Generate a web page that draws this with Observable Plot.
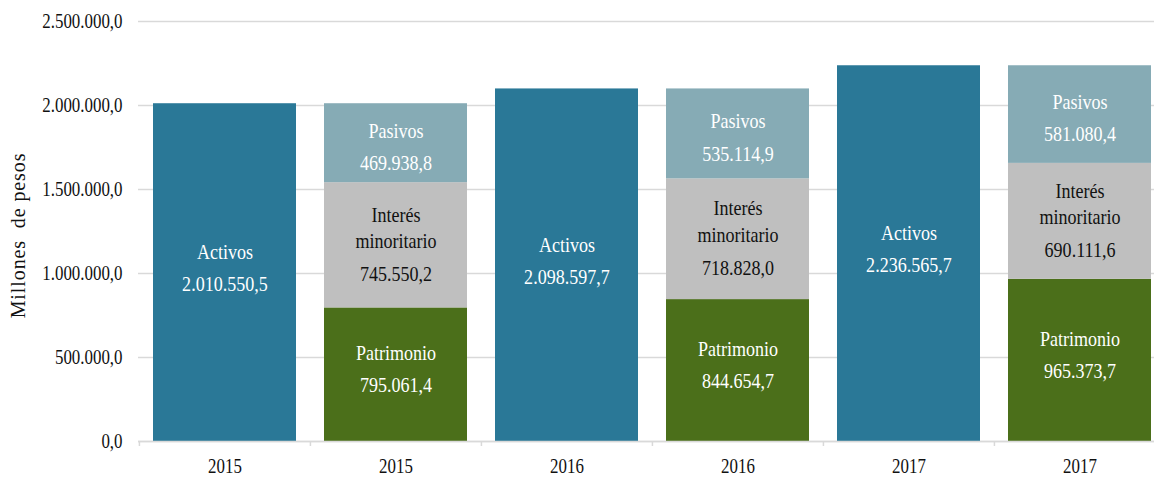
<!DOCTYPE html>
<html>
<head>
<meta charset="utf-8">
<script src="https://cdn.jsdelivr.net/npm/d3@7"></script>
<script src="https://cdn.jsdelivr.net/npm/@observablehq/plot@0.6"></script>
<style>
  html, body { margin: 0; padding: 0; background: #fff; }
  #chart svg { display: block; }
</style>
</head>
<body>
<div id="chart"></div>
<script>
// ---- Data ----
const years = ["2015", "2016", "2017"];
const activos = [2010550.5, 2098597.7, 2236565.7];
const patrimonio = [795061.4, 844654.7, 965373.7];
const interes = [745550.2, 718828.0, 690111.6];
const pasivos = [469938.8, 535114.9, 581080.4];
const seriesNames = ["Activos", "Patrimonio", "Interés minoritario", "Pasivos"];
const yTicks = [0, 500000, 1000000, 1500000, 2000000, 2500000];
const yLabel = "Millones\u00a0 de pesos";

// ---- Styles ----
const colors = {
  "Activos": "#2A7897",
  "Patrimonio": "#4B6F1A",
  "Interés minoritario": "#BFBFBF",
  "Pasivos": "#86ABB5"
};
const textColors = {
  "Activos": "#fff",
  "Patrimonio": "#fff",
  "Interés minoritario": "#111",
  "Pasivos": "#fff"
};
// label offsets (name dy, value dy) per series
const offsets = {
  "Activos": [-22, 12],
  "Patrimonio": [-23, 11],
  "Interés minoritario": [-19, 29],
  "Pasivos": [-14, 20]
};

const locale = d3.formatLocale({decimal: ",", thousands: ".", grouping: [3], currency: ["", ""]});
const fmt = locale.format(",.1f");

// ---- Build rows ----
const keys = [];
const keyYear = {};
const rows = [];
years.forEach((yr, i) => {
  const kA = yr + "-A", kB = yr + "-B";
  keys.push(kA, kB);
  keyYear[kA] = yr; keyYear[kB] = yr;
  rows.push({bar: kA, series: "Activos", value: activos[i], y1: 0, y2: activos[i]});
  let base = 0;
  [["Patrimonio", patrimonio[i]], ["Interés minoritario", interes[i]], ["Pasivos", pasivos[i]]].forEach(([s, v]) => {
    rows.push({bar: kB, series: s, value: v, y1: base, y2: base + v});
    base += v;
  });
});
rows.forEach(r => r.mid = (r.y1 + r.y2) / 2);

const W = 1154, H = 481;
const xRange = [138.5, 1165.4];
const step = (xRange[1] - xRange[0]) / keys.length;
const FONT = "Liberation Serif";
const FS_AXIS = 20;
const FS_BAR = 21;

const labelMarks = seriesNames.flatMap(s => {
  const data = rows.filter(r => r.series === s);
  const [dn, dv] = offsets[s];
  return [
    Plot.text(data, {
      x: "bar", y: "mid",
      text: s === "Interés minoritario" ? () => "Interés\nminoritario" : "series",
      dy: dn, lineHeight: 1.25, fill: textColors[s], fontSize: FS_BAR
    }),
    Plot.text(data, {
      x: "bar", y: "mid", text: d => fmt(d.value),
      dy: dv, fill: textColors[s], fontSize: FS_BAR
    })
  ];
});

const chart = Plot.plot({
  width: W,
  height: H,
  marginLeft: 138,
  marginRight: 0,
  marginTop: 21,
  marginBottom: 40,
  style: {fontFamily: FONT, fontSize: FS_AXIS + "px", background: "#fff", color: "#111"},
  x: {type: "band", domain: keys, range: xRange, paddingInner: 0.164, paddingOuter: 0.082, align: 0.5, label: null},
  y: {domain: [0, 2500000], label: null},
  marks: [
    Plot.gridY(yTicks, {stroke: "#d9d9d9", strokeOpacity: 1, strokeWidth: 1.5}),
    Plot.barY(rows, {x: "bar", y1: "y1", y2: "y2", fill: d => colors[d.series]}),
    Plot.ruleY([0], {stroke: "#d9d9d9", strokeWidth: 1.5}),
    Plot.axisX({tickSize: 5, tickFormat: () => "", label: null, dx: -step / 2, stroke: "#d9d9d9", strokeWidth: 1.5}),
    Plot.axisX({tickSize: 0, tickPadding: 17, tickFormat: k => keyYear[k], label: null, fontSize: FS_AXIS, fill: "#111"}),
    Plot.axisY({ticks: yTicks, tickSize: 0, tickPadding: 16, tickFormat: fmt, label: null, fontSize: FS_AXIS, fill: "#111"}),
    ...labelMarks,
    // y label
    Plot.text([yLabel], {frameAnchor: "left", textAnchor: "middle", dx: -120, dy: 4, rotate: -90, text: d => d, fontSize: 20, fill: "#111"})
  ]
});

document.getElementById("chart").appendChild(chart);
chart.querySelectorAll("text").forEach(el => { el.style.fontFamily = "'Liberation Serif', serif"; });

// Condense text horizontally (narrow serif look), except the rotated axis title
chart.querySelectorAll("text").forEach(el => {
  const t = el.getAttribute("transform") || "";
  if (t.includes("rotate")) { el.setAttribute("letter-spacing", "0.9"); return; }
  let bb;
  try { bb = el.getBBox(); } catch (e) { return; }
  if (!bb || bb.width === 0) return;
  const fs = parseFloat(getComputedStyle(el).fontSize);
  const SX = fs >= FS_BAR ? 0.86 : 0.845;
  const anchor = getComputedStyle(el).textAnchor;
  let ax = bb.x + bb.width / 2;
  if (anchor === "end") ax = bb.x + bb.width;
  else if (anchor === "start") ax = bb.x;
  el.setAttribute("transform", `${t} translate(${ax},0) scale(${SX},1) translate(${-ax},0)`.trim());
});
</script>
</body>
</html>
